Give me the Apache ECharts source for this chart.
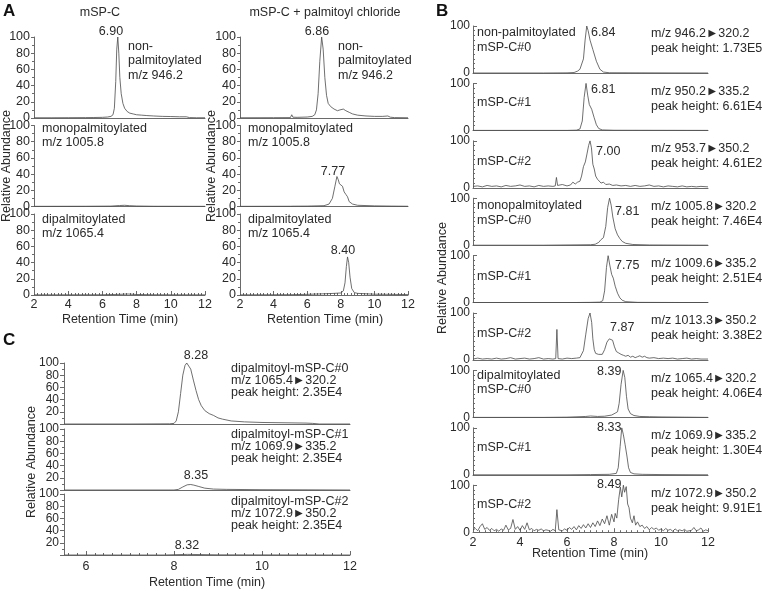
<!DOCTYPE html>
<html><head><meta charset="utf-8">
<script src="https://cdn.jsdelivr.net/npm/echarts/dist/echarts.min.js"></script>
<style>html,body{margin:0;padding:0;background:#fff}#c{width:763px;height:591px}</style>
</head><body><div id="c"></div>
<script>
// ---------- DATA ----------
const xTicksA = [2, 4, 6, 8, 10, 12];
const yTicksA = [0, 20, 40, 60, 80, 100];
// Panel A, left column (mSP-C)
const A_left_non = [[2,0.3],[3,0.3],[4,0.4],[5,0.5],[5.5,0.6],[6,0.8],[6.3,1.2],[6.5,2],[6.62,4],[6.7,12],[6.78,45],[6.84,85],[6.9,100],[6.96,80],[7.02,50],[7.1,30],[7.2,18],[7.3,12],[7.45,8],[7.6,6],[7.8,5],[8.0,4],[8.3,3.5],[8.6,3],[9,2.5],[9.5,2],[10,1.8],[10.5,1.5],[10.9,1.5],[11.1,0.5],[11.5,0.3],[12,0.3]];
const A_left_mono = [[2,0.2],[5,0.3],[6.5,0.5],[7,1.2],[7.3,1.5],[7.6,1],[8,0.6],[9,0.3],[12,0.2]];
const A_left_di = [[2,0.2],[6,0.3],[7,0.8],[7.5,1.2],[8,0.6],[9,0.3],[12,0.2]];
// Panel A, right column (mSP-C + palmitoyl chloride)
const A_right_non = [[2,0.3],[4,0.4],[5,0.5],[5.08,4],[5.15,1],[5.4,0.8],[6,1.2],[6.3,2],[6.45,4],[6.55,10],[6.65,30],[6.75,70],[6.86,100],[6.95,85],[7.05,50],[7.15,28],[7.25,18],[7.4,14],[7.6,11],[7.8,9],[7.95,10],[8.05,12],[8.15,11],[8.3,9],[8.5,7],[8.7,5],[9,3.5],[9.5,2.5],[10,2],[10.5,2],[10.8,2.5],[10.95,1],[11.2,0.5],[12,0.3]];
const A_right_mono = [[2,0.2],[5,0.3],[5.08,1.5],[5.15,0.4],[6,0.5],[7,1],[7.3,3],[7.5,10],[7.65,25],[7.77,37],[7.85,33],[7.92,28],[8.0,28],[8.1,25],[8.2,18],[8.3,15],[8.4,12],[8.5,6],[8.7,3],[9,1.5],[10,0.8],[11,0.5],[12,0.3]];
const A_right_di = [[2,0.2],[5,0.4],[6,0.8],[7,1.5],[7.6,2],[8,2.5],[8.15,5],[8.25,15],[8.33,35],[8.4,47],[8.47,40],[8.55,22],[8.65,8],[8.8,3],[9,2],[10,1],[11,0.8],[12,0.5]];
// Panel B (9 MRM traces)
const B_non0 = [[2,0],[5,0],[6,0.3],[6.3,1],[6.45,4],[6.55,8],[6.62,12],[6.7,30],[6.77,70],[6.84,100],[6.9,90],[6.98,70],[7.1,50],[7.25,25],[7.4,8],[7.55,2],[7.8,0.5],[10,0.2],[12,0]];
const B_non1 = [[2,0],[6,0],[6.4,0.5],[6.55,3],[6.65,20],[6.73,70],[6.81,100],[6.88,75],[6.95,55],[7.05,45],[7.15,28],[7.25,12],[7.35,4],[7.5,1],[8,0.3],[12,0]];
const B_non2 = [[2,3],[2.2,4],[2.4,2],[2.6,5],[2.8,3],[3,4],[3.2,2],[3.4,5],[3.6,3],[3.8,4],[4,6],[4.2,3],[4.4,4],[4.6,2],[4.8,5],[5,3],[5.2,4],[5.4,3],[5.5,4],[5.55,22],[5.6,5],[5.8,7],[6.0,4],[6.15,6],[6.25,12],[6.35,8],[6.45,12],[6.55,14],[6.62,25],[6.7,45],[6.78,55],[6.85,72],[6.92,90],[6.98,100],[7.04,85],[7.1,50],[7.16,40],[7.22,25],[7.3,18],[7.38,14],[7.45,10],[7.55,12],[7.65,7],[7.8,8],[7.95,5],[8.1,6],[8.3,4],[8.5,5],[8.7,3],[8.9,5],[9.1,3],[9.3,4],[9.5,6],[9.7,3],[9.9,4],[10.1,2],[10.3,4],[10.5,3],[10.7,2],[10.9,4],[11.1,2],[11.3,3],[11.5,2],[11.7,3],[12,2]];
const B_mono0 = [[2,0],[5,0],[6,0.5],[7,1],[7.2,2],[7.35,6],[7.45,12],[7.55,16],[7.65,40],[7.73,80],[7.81,100],[7.88,85],[7.95,60],[8.05,35],[8.15,22],[8.25,14],[8.35,8],[8.5,4],[8.8,1.5],[9.5,0.5],[12,0]];
const B_mono1 = [[2,0],[6,0],[7,0.5],[7.4,1],[7.52,4],[7.6,25],[7.68,75],[7.75,100],[7.82,80],[7.9,60],[7.97,52],[8.05,35],[8.15,20],[8.25,10],[8.35,5],[8.5,2],[9,0.5],[12,0]];
const B_mono2 = [[2,2],[2.2,4],[2.4,2],[2.6,3],[2.8,2],[3,4],[3.2,2],[3.4,3],[3.6,5],[3.8,2],[4,3],[4.2,4],[4.4,2],[4.6,3],[4.8,5],[5,2],[5.2,3],[5.4,2],[5.52,3],[5.57,65],[5.62,3],[5.8,2],[6.0,4],[6.2,3],[6.4,4],[6.55,5],[6.62,8],[6.7,20],[6.8,55],[6.9,88],[6.98,100],[7.05,80],[7.1,45],[7.16,22],[7.22,14],[7.28,18],[7.34,12],[7.42,15],[7.5,12],[7.6,22],[7.7,38],[7.8,45],[7.87,47],[7.94,42],[8.02,28],[8.1,18],[8.2,15],[8.3,12],[8.4,10],[8.5,8],[8.6,10],[8.7,6],[8.8,8],[8.9,5],[9.0,7],[9.1,9],[9.2,6],[9.3,8],[9.4,5],[9.5,4],[9.7,5],[9.9,3],[10.1,4],[10.3,3],[10.5,4],[10.7,2],[10.9,3],[11.1,4],[11.3,2],[11.5,3],[11.7,2],[12,2]];
const B_di0 = [[2,0],[5,0],[6,0.5],[6.8,2],[7,3],[7.3,2],[7.6,2.5],[7.9,5],[8.05,9],[8.15,12],[8.22,30],[8.3,70],[8.39,100],[8.46,85],[8.53,45],[8.6,18],[8.7,8],[8.85,4],[9.1,2],[9.5,1.5],[10,1],[11,0.5],[12,0]];
const B_di1 = [[2,0],[6,0],[7,0.5],[7.8,1],[8.1,3],[8.18,15],[8.26,60],[8.33,100],[8.4,85],[8.47,65],[8.55,40],[8.62,15],[8.7,5],[8.85,2],[9.2,1],[10,0.5],[12,0]];
const B_di2 = [[2,5],[2.1,8],[2.2,3],[2.3,12],[2.4,18],[2.5,6],[2.6,10],[2.7,4],[2.8,8],[2.9,3],[3.0,6],[3.1,2],[3.2,7],[3.3,4],[3.4,15],[3.5,5],[3.6,8],[3.7,27],[3.8,6],[3.9,12],[4.0,4],[4.1,14],[4.2,6],[4.3,20],[4.4,5],[4.5,8],[4.6,3],[4.7,6],[4.8,4],[4.9,7],[5.0,3],[5.1,5],[5.2,4],[5.3,2],[5.4,6],[5.5,3],[5.57,48],[5.65,5],[5.8,3],[5.9,7],[6.0,4],[6.1,10],[6.2,6],[6.3,12],[6.4,5],[6.5,14],[6.6,8],[6.7,16],[6.8,9],[6.9,18],[7.0,10],[7.1,20],[7.2,12],[7.3,24],[7.4,14],[7.5,28],[7.6,18],[7.7,35],[7.8,15],[7.9,38],[8.0,22],[8.05,40],[8.12,30],[8.2,70],[8.27,96],[8.33,75],[8.4,100],[8.45,85],[8.52,97],[8.58,60],[8.64,52],[8.7,30],[8.78,20],[8.85,35],[8.92,15],[9.0,22],[9.1,12],[9.2,15],[9.3,8],[9.4,12],[9.5,5],[9.6,10],[9.7,6],[9.8,9],[9.9,4],[10.0,7],[10.1,3],[10.2,8],[10.3,4],[10.4,6],[10.5,2],[10.6,7],[10.7,3],[10.8,5],[10.9,3],[11.0,6],[11.1,2],[11.3,4],[11.4,10],[11.5,3],[11.6,5],[11.7,9],[11.8,2],[11.9,5],[12,3]];
// Panel C (dipalmitoyl traces)
const C_di0 = [[5.5,0],[7,0],[7.9,0.3],[8.0,1],[8.05,5],[8.1,20],[8.15,50],[8.2,80],[8.25,96],[8.29,100],[8.33,98],[8.38,90],[8.44,72],[8.5,55],[8.56,40],[8.62,30],[8.7,22],[8.8,17],[8.9,14],[9.0,10],[9.1,8],[9.3,5],[9.6,3.5],[10,2.5],[10.5,2],[11,1.5],[11.15,1],[11.3,0],[12,0]];
const C_di1 = [[5.5,0],[8.0,0],[8.1,1],[8.2,5],[8.3,8.5],[8.38,9],[8.45,8],[8.55,6],[8.7,3],[8.9,1.5],[9.2,1],[10,0.5],[11,0.3],[12,0]];
const C_di2 = [[5.5,0],[7.8,0],[8.0,0.5],[8.3,1],[8.5,0.8],[9,0.3],[12,0]];

// ---------- STYLE ----------
const FONT = '"Liberation Sans", Arial, Helvetica, sans-serif';
const TXT = '#2a2a2a', AX = '#6a6a6a', LINE = '#4a4a4a';
const chart = echarts.init(document.getElementById('c'), null, {renderer: 'canvas'});
const grids = [], xAxes = [], yAxes = [], series = [];
function lbl(o){ return Object.assign({fontSize:12, color:TXT, fontFamily:FONT, showMaxLabel:true, showMinLabel:true, hideOverlap:false}, o); }
function panel(g, xa, ya, data){
  const i = grids.length;
  grids.push({left:g[0], top:g[1], width:g[2], height:g[3], containLabel:false, outerBoundsMode:'none'});
  xAxes.push(Object.assign({gridIndex:i, type:'value', splitLine:{show:false}, axisLine:{show:true, onZero:false, lineStyle:{color:AX, width:1}}}, xa));
  yAxes.push(Object.assign({gridIndex:i, type:'value', splitLine:{show:false}, axisLine:{show:true, lineStyle:{color:AX, width:1}}}, ya));
  series.push({type:'line', xAxisIndex:i, yAxisIndex:i, data:data, symbol:'none', showSymbol:false, silent:true, animation:false, clip:true, lineStyle:{color:LINE, width:0.8}});
}
function xA(bottom){
  return {min:2, max:12, interval:2,
    axisTick:{show:bottom, inside:true, length:4, lineStyle:{color:AX}},
    minorTick:{show:bottom, splitNumber:10, length:2, lineStyle:{color:AX}},
    axisLabel:lbl({show:bottom, margin:3, fontSize:12.5})};
}
const yA = {min:0, max:100, interval:20,
  axisTick:{show:true, inside:false, length:3, lineStyle:{color:AX}},
  minorTick:{show:true, splitNumber:2, length:2, lineStyle:{color:AX}},
  axisLabel:lbl({margin:4, fontSize:12.5})};
// Panel A
const aTops = [37, 125.5, 214], aH = 81;
const Aleft = [A_left_non, A_left_mono, A_left_di];
const Aright = [A_right_non, A_right_mono, A_right_di];
for (let r = 0; r < 3; r++){
  panel([34, aTops[r], 171, aH], xA(r===2), yA, Aleft[r]);
  panel([240, aTops[r], 168, aH], xA(r===2), yA, Aright[r]);
}
// Panel B
const Btr = [B_non0, B_non1, B_non2, B_mono0, B_mono1, B_mono2, B_di0, B_di1, B_di2];
for (let r = 0; r < 9; r++){
  const bottom = r === 8;
  panel([473, 26 + 57.4*r, 235, 47],
    {min:2, max:12, interval:2,
     axisTick:{show:bottom, inside:true, length:4, lineStyle:{color:AX}},
     minorTick:{show:bottom, splitNumber:8, length:2, lineStyle:{color:AX}},
     axisLabel:lbl({show:bottom, margin:4, fontSize:12.5})},
    {min:0, max:100, interval:100,
     axisTick:{show:true, inside:true, length:4, lineStyle:{color:AX}},
     minorTick:{show:true, splitNumber:10, length:2, lineStyle:{color:AX}},
     axisLabel:lbl({margin:3})},
    Btr[r]);
}
// Panel C
const Ctr = [C_di0, C_di1, C_di2], cTops = [363, 429, 494];
for (let r = 0; r < 3; r++){
  const bottom = r === 2;
  panel([64, cTops[r], 286, 61],
    {min:5.5, max:12, splitNumber:3,
     axisTick:{show:bottom, inside:true, length:4, lineStyle:{color:AX}},
     minorTick:{show:bottom, splitNumber:10, length:2, lineStyle:{color:AX}},
     axisLabel:lbl({show:bottom, margin:5, fontSize:12.5, formatter:function(v){ return (v % 2 === 0) ? String(v) : ''; }})},
    {min:0, max:100, interval:20,
     axisTick:{show:true, inside:false, length:4, lineStyle:{color:AX}},
     minorTick:{show:true, splitNumber:2, length:2, lineStyle:{color:AX}},
     axisLabel:lbl({margin:5, fontSize:12, formatter:function(v){ return v === 0 ? '' : String(v); }})},
    Ctr[r]);
}

// ---------- TEXT ----------
const G = [];
const TF = '12.5px ' + FONT;
function T(text, x, y, align, extra){
  G.push({type:'text', x:x, y:y, silent:true, style:Object.assign({text:text, fill:TXT, font:TF, textAlign:align||'left', textVerticalAlign:'middle'}, extra||{})});
}
function TR(text, x, y){
  G.push({type:'text', x:x, y:y, rotation:Math.PI/2, silent:true, style:{text:text, fill:TXT, font:TF, textAlign:'center', textVerticalAlign:'middle'}});
}
const TRI = '\u25BA';
// Panel letters
T('A', 3, 11, 'left', {font:'bold 17px ' + FONT, fill:'#111'});
T('B', 436, 11, 'left', {font:'bold 17px ' + FONT, fill:'#111'});
T('C', 3, 340, 'left', {font:'bold 17px ' + FONT, fill:'#111'});
// Panel A
T('mSP-C', 100, 13, 'center');
T('mSP-C + palmitoyl chloride', 325, 13, 'center');
T('6.90', 111, 32, 'center');
T('non-', 128, 47); T('palmitoylated', 128, 61); T('m/z 946.2', 128, 76);
T('monopalmitoylated', 42, 129); T('m/z 1005.8', 42, 143);
T('dipalmitoylated', 42, 220); T('m/z 1065.4', 42, 234);
T('6.86', 317, 32, 'center');
T('non-', 338, 47); T('palmitoylated', 338, 61); T('m/z 946.2', 338, 76);
T('monopalmitoylated', 248, 129); T('m/z 1005.8', 248, 143);
T('7.77', 333, 172, 'center');
T('dipalmitoylated', 248, 220); T('m/z 1065.4', 248, 234);
T('8.40', 343, 251, 'center');
T('Retention Time (min)', 120, 320, 'center');
T('Retention Time (min)', 325, 320, 'center');
TR('Relative Abundance', 7, 166);
TR('Relative Abundance', 212, 166);
// Panel B
const bMz = ['m/z 946.2' + TRI + '320.2', 'm/z 950.2' + TRI + '335.2', 'm/z 953.7' + TRI + '350.2',
  'm/z 1005.8' + TRI + '320.2', 'm/z 1009.6' + TRI + '335.2', 'm/z 1013.3' + TRI + '350.2',
  'm/z 1065.4' + TRI + '320.2', 'm/z 1069.9' + TRI + '335.2', 'm/z 1072.9' + TRI + '350.2'];
const bPH = ['peak height: 1.73E5', 'peak height: 6.61E4', 'peak height: 4.61E2',
  'peak height: 7.46E4', 'peak height: 2.51E4', 'peak height: 3.38E2',
  'peak height: 4.06E4', 'peak height: 1.30E4', 'peak height: 9.91E1'];
for (let r = 0; r < 9; r++){
  const top = 26 + 57.4*r;
  T(bMz[r], 651, top + 8); T(bPH[r], 651, top + 23);
}
T('non-palmitoylated', 477, 33); T('mSP-C#0', 477, 48);
T('mSP-C#1', 477, 103); T('mSP-C#2', 477, 162);
T('monopalmitoylated', 477, 206); T('mSP-C#0', 477, 221);
T('mSP-C#1', 477, 277); T('mSP-C#2', 477, 334);
T('dipalmitoylated', 477, 376); T('mSP-C#0', 477, 390);
T('mSP-C#1', 477, 448); T('mSP-C#2', 477, 505);
T('6.84', 591, 33); T('6.81', 591, 90); T('7.00', 596, 152);
T('7.81', 615, 212); T('7.75', 615, 266); T('7.87', 610, 328);
T('8.39', 597, 372); T('8.33', 597, 428); T('8.49', 597, 485);
T('Retention Time (min)', 590, 554, 'center');
TR('Relative Abundance', 443, 278);
// Panel C
T('8.28', 196, 356, 'center'); T('8.35', 196, 476, 'center'); T('8.32', 187, 546, 'center');
const cName = ['dipalmitoyl-mSP-C#0', 'dipalmitoyl-mSP-C#1', 'dipalmitoyl-mSP-C#2'];
const cMz = ['m/z 1065.4' + TRI + '320.2', 'm/z 1069.9' + TRI + '335.2', 'm/z 1072.9' + TRI + '350.2'];
const cPH = ['peak height: 2.35E4', 'peak height: 2.35E4', 'peak height: 2.35E4'];
const cY = [369, 435, 502];
for (let r = 0; r < 3; r++){
  T(cName[r], 231, cY[r]); T(cMz[r], 231, cY[r] + 12); T(cPH[r], 231, cY[r] + 24);
}
T('Retention Time (min)', 207, 583, 'center');
TR('Relative Abundance', 32, 462);

chart.setOption({animation:false, backgroundColor:'#fff', grid:grids, xAxis:xAxes, yAxis:yAxes, series:series, graphic:G});
</script></body></html>
